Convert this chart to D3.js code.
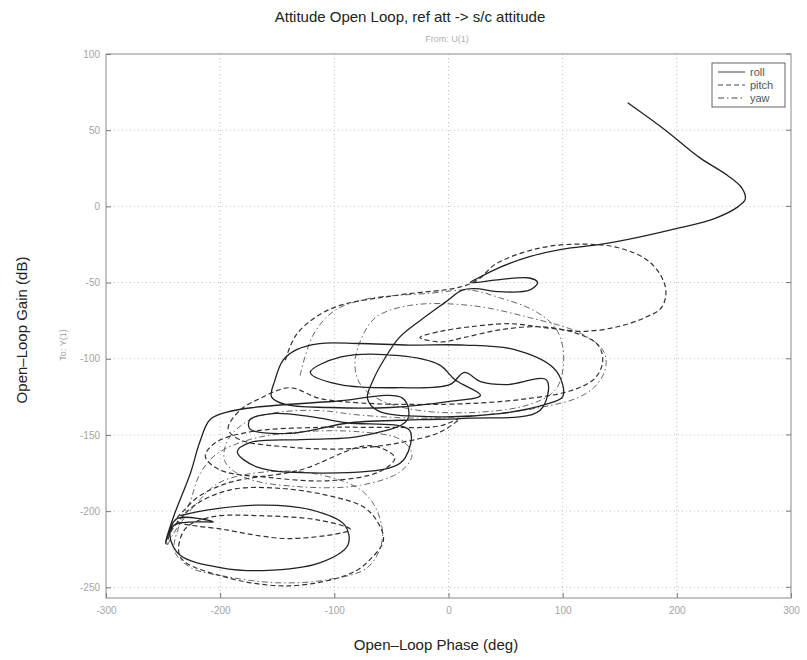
<!DOCTYPE html>
<html>
<head>
<meta charset="utf-8">
<script src="https://cdnjs.cloudflare.com/ajax/libs/d3/7.8.5/d3.min.js"></script>
<style>
  body { margin: 0; background: #fff; }
  svg { display: block; font-family: "Liberation Sans", Arial, sans-serif; }
</style>
</head>
<body>
<svg id="chart" width="807" height="660"></svg>
<script>
// phase (deg), gain (dB) pairs
var roll = [
  [157,68],[190,50],[220,32],[245,20],[257,12],[260,5],[254,0],[233,-8],[203,-14],[168,-20],
  [133,-25],[100,-28],[71,-33],[45,-40],[26,-47],[19,-50],
  [45,-48],[71,-47],[78,-50],[71,-55],[45,-56],[23,-54],[12,-55],
  [-3,-63],[-25,-75],[-43,-86],[-56,-100],
  [-66,-114],[-71,-126],[-62,-134],[-16,-138],[45,-136],[85,-130],[100,-125],[100,-117],[92,-106],
  [58,-94],[14,-91],[-34,-91],[-78,-90],[-113,-90],[-133,-94],[-145,-101],[-152,-114],[-155,-125],
  [-143,-130],[-104,-132],[-51,-132],[1,-128],[28,-124],
  [6,-114],[-8,-104],[-43,-98],[-95,-99],[-121,-109],[-95,-117],[-43,-119],[1,-117],[14,-109],
  [28,-115],[50,-117],[86,-114],
  [80,-134],[19,-139],[-25,-140],[-86,-142],
  [-139,-149],[-174,-146],[-174,-140],[-154,-136],[-121,-138],[-89,-142],
  [-34,-147],[-38,-165],[-49,-171],[-110,-175],[-168,-171],[-185,-161],[-174,-155],[-130,-153],
  [-78,-151],[-36,-140],[-40,-126],[-100,-128],[-171,-132],[-194,-135],[-209,-140],[-218,-155],
  [-226,-175],[-241,-204],[-248,-221],
  [-240,-209],[-206,-207],[-238,-205],[-244,-216],[-235,-229],[-200,-237],[-162,-239],[-113,-234],
  [-88,-222],[-91,-209],[-121,-199],[-162,-196],[-209,-199],[-235,-203]
];

var pitch = [
  [-143,-101],[-134,-85],[-117,-73],[-95,-65],[-42,-58],[10,-53],[26,-48],[41,-38],[71,-29],
  [104,-25],[148,-27],[177,-37],[190,-53],[187,-66],[172,-73],[148,-79],[118,-82],[89,-80],
  [54,-77],[19,-79],[-7,-82],[-25,-86],[-7,-89],[14,-86],[45,-81],[80,-79],[111,-83],[131,-91],
  [135,-102],[128,-113],[107,-121],[71,-126],[28,-129],[-25,-130],[-77,-129],[-113,-126],
  [-139,-119],[-165,-126],[-183,-134],[-193,-146],[-183,-153],[-139,-158],[-86,-159],[-42,-155],
  [-7,-148],[10,-139],[-7,-144],[-60,-145],[-113,-145],[-174,-148],[-204,-155],[-213,-164],
  [-200,-173],[-156,-178],[-104,-180],[-60,-174],[-47,-165],[-69,-157],
  [-130,-173],[-191,-181],[-218,-190],[-231,-199],[-238,-206],[-197,-212],[-139,-218],[-86,-212],
  [-113,-206],[-165,-203],[-209,-204],[-231,-212],[-235,-230],[-197,-243],[-139,-249],[-86,-241],
  [-69,-232],[-57,-219],[-63,-206],[-75,-197],[-104,-190],[-148,-185],[-191,-186],[-222,-196],
  [-242,-212],[-247,-222]
];

var yaw = [
  [-130,-111],[-119,-85],[-101,-69],[-73,-61],[-16,-57],[19,-55],[45,-60],[74,-68],[93,-79],
  [100,-92],[100,-108],[93,-121],[71,-130],[28,-135],[-25,-134],[-60,-127],[-77,-117],[-82,-104],
  [-77,-88],[-64,-73],[-34,-65],[19,-65],[71,-73],[115,-83],[135,-94],[138,-104],[131,-116],
  [115,-125],[80,-132],[28,-137],[-25,-139],[-77,-137],[-113,-134],[-148,-135],[-174,-140],
  [-193,-153],[-196,-167],[-178,-178],[-130,-184],[-77,-183],[-42,-174],[-32,-163],[-42,-153],
  [-77,-148],[-130,-148],[-174,-153],[-204,-163],[-218,-176],[-226,-193],[-237,-212],[-240,-226],
  [-226,-237],[-194,-243],[-150,-247],[-106,-245],[-71,-237],[-58,-219],[-63,-199],[-77,-186],
  [-113,-176],[-156,-174],[-200,-181],[-222,-196],[-242,-216],[-247,-224]
];

var xTicks = [-300, -200, -100, 0, 100, 200, 300];
var yTicks = [-250, -200, -150, -100, -50, 0, 50, 100];
var seriesNames = ["roll", "pitch", "yaw"];

var svg = d3.select("#chart");
var pL = 106, pR = 791, pT = 54, pB = 598;

var x = d3.scaleLinear().domain([-300, 300]).range([pL, pR]);
var y = d3.scaleLinear().domain([-257, 100]).range([pB, pT]);

// grid
svg.append("g").selectAll("line").data(xTicks.slice(1, -1)).enter().append("line")
  .attr("x1", d => x(d)).attr("x2", d => x(d)).attr("y1", pT).attr("y2", pB)
  .attr("stroke", "#bbb").attr("stroke-width", 1).attr("stroke-dasharray", "1,3");
svg.append("g").selectAll("line").data(yTicks.filter(d => d > -257 && d < 100)).enter().append("line")
  .attr("x1", pL).attr("x2", pR).attr("y1", d => y(d)).attr("y2", d => y(d))
  .attr("stroke", "#c6c6c6").attr("stroke-width", 1).attr("stroke-dasharray", "1,3");

// axes
var xAxis = d3.axisBottom(x).tickValues(xTicks).tickSize(-5).tickPadding(9);
var yAxis = d3.axisLeft(y).tickValues(yTicks).tickSize(-5).tickPadding(6);
var gx = svg.append("g").attr("transform", "translate(0," + pB + ")").call(xAxis);
var gy = svg.append("g").attr("transform", "translate(" + pL + ",0)").call(yAxis);
[gx, gy].forEach(function(g){
  g.select(".domain").remove();
  g.selectAll(".tick line").attr("stroke", "#777");
  g.selectAll(".tick text").attr("fill", "#a4a4a4").style("font-size", "10px")
   .text(d => String(d));
});
// right side ticks
svg.append("g").selectAll("line").data(yTicks).enter().append("line")
  .attr("x1", pR - 5).attr("x2", pR).attr("y1", d => y(d)).attr("y2", d => y(d))
  .attr("stroke", "#777");

// box
svg.append("rect").attr("x", pL).attr("y", pT).attr("width", pR - pL).attr("height", pB - pT)
  .attr("fill", "none").attr("stroke", "#8a8a8a").attr("stroke-width", 1);

var line = d3.line().x(d => x(d[0])).y(d => y(d[1])).curve(d3.curveCatmullRom.alpha(0.5));

var plot = svg.append("g");
plot.append("path").datum(yaw).attr("d", line).attr("fill", "none")
  .attr("stroke", "#666").attr("stroke-width", 1).attr("stroke-dasharray", "6,3,1.5,3");
plot.append("path").datum(pitch).attr("d", line).attr("fill", "none")
  .attr("stroke", "#333").attr("stroke-width", 1.2).attr("stroke-dasharray", "5,3");
plot.append("path").datum(roll).attr("d", line).attr("fill", "none")
  .attr("stroke", "#222").attr("stroke-width", 1.3);

// legend
var lg = svg.append("g").attr("transform", "translate(712,63)");
lg.append("rect").attr("width", 73).attr("height", 44).attr("fill", "#fff")
  .attr("stroke", "#666").attr("stroke-width", 1);
var dashes = [null, "5,3", "6,3,1.5,3"];
seriesNames.forEach(function(n, i){
  var yy = 9 + i * 13;
  lg.append("line").attr("x1", 6).attr("x2", 33).attr("y1", yy).attr("y2", yy)
    .attr("stroke", "#444").attr("stroke-width", 1).attr("stroke-dasharray", dashes[i]);
  lg.append("text").attr("x", 38).attr("y", yy + 4).text(n)
    .attr("fill", "#555").style("font-size", "11px");
});

// texts
svg.append("text").attr("x", 410).attr("y", 22).attr("text-anchor", "middle")
  .style("font-size", "15px").attr("fill", "#222").text("Attitude Open Loop, ref att -> s/c attitude");
svg.append("text").attr("x", 447).attr("y", 42).attr("text-anchor", "middle")
  .style("font-size", "9px").attr("fill", "#b0b0b0").text("From: U(1)");
svg.append("text").attr("transform", "translate(66,345) rotate(-90)").attr("text-anchor", "middle")
  .style("font-size", "9px").attr("fill", "#a0a0a0").text("To: Y(1)");
svg.append("text").attr("transform", "translate(27,330) rotate(-90)").attr("text-anchor", "middle")
  .style("font-size", "15px").attr("fill", "#222").text("Open–Loop Gain (dB)");
svg.append("text").attr("x", 436).attr("y", 650).attr("text-anchor", "middle")
  .style("font-size", "15px").attr("fill", "#222").text("Open–Loop Phase (deg)");
</script>
</body>
</html>
